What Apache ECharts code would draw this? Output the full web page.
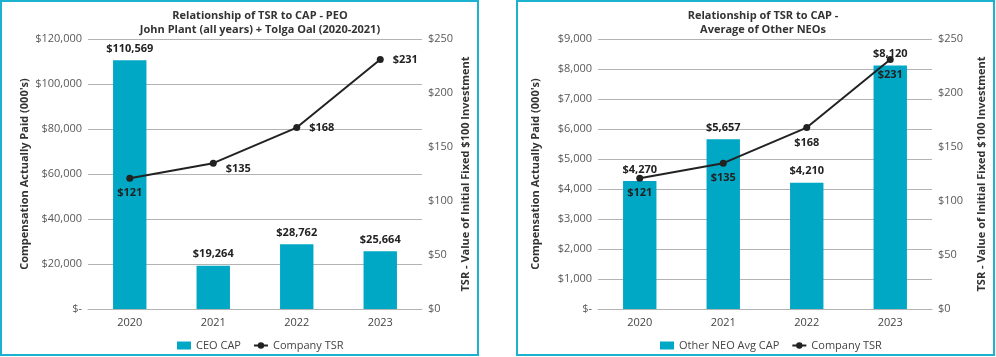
<!DOCTYPE html>
<html>
<head>
<meta charset="utf-8">
<script src="https://cdn.jsdelivr.net/npm/echarts@6/dist/echarts.min.js"></script>
<style>
html,body{margin:0;padding:0;background:#fff;}
#c{width:996px;height:357px;}
</style>
</head>
<body>
<div id="c"></div>
<script>
const years = ['2020', '2021', '2022', '2023'];
const ceoCap = [110569, 19264, 28762, 25664];
const neoCap = [4270, 5657, 4210, 8120];
const companyTsr = [121, 135, 168, 231];

const leftTitle = 'Relationship of TSR to CAP - PEO\nJohn Plant (all years) + Tolga Oal (2020-2021)';
const rightTitle = 'Relationship of TSR to CAP -\nAverage of Other NEOs';
const capAxisName = "Compensation Actually Paid (000's)";
const tsrAxisName = 'TSR - Value of Initial Fixed $100 Investment';

const FONT = '"Open Sans", sans-serif';
const BAR = '#00A8C6';
const BORDER = '#1CB2CF';
const LINE = '#222222';
const GRIDC = '#B3B3B3';
const AXT = '#595959';

function money(v){
  if (v === 0) return '$-';
  return '$' + v.toLocaleString('en-US');
}
function money0(v){ return '$' + v.toLocaleString('en-US'); }

const chart = echarts.init(document.getElementById('c'), null, {renderer:'canvas'});

function yCap(gridIndex, max, interval, gap){
  return {
    type:'value', gridIndex, min:0, max, interval, position:'left',
    name: capAxisName, nameLocation:'middle', nameGap: gap, nameRotate: 90,
    nameTextStyle:{fontFamily:FONT, fontSize:11, fontWeight:'bold', color:'#333'},
    axisLine:{show:false}, axisTick:{show:false},
    axisLabel:{fontFamily:FONT, fontSize:11, color:AXT, formatter: money, margin:6},
    splitLine:{show:true, lineStyle:{color:GRIDC, width:1}}
  };
}
function yTsr(gridIndex, gap){
  return {
    type:'value', gridIndex, min:0, max:250, interval:50, position:'right',
    name: tsrAxisName, nameLocation:'middle', nameGap: gap, nameRotate: 90,
    nameTextStyle:{fontFamily:FONT, fontSize:11, fontWeight:'bold', color:'#333'},
    axisLine:{show:false}, axisTick:{show:false},
    axisLabel:{fontFamily:FONT, fontSize:11, color:AXT, formatter: money0, margin:6},
    splitLine:{show:false}
  };
}
function xAx(gridIndex){
  return {
    type:'category', gridIndex, data: years,
    axisLine:{show:true, lineStyle:{color:GRIDC, width:1}}, axisTick:{show:false},
    axisLabel:{fontFamily:FONT, fontSize:11, color:'#444', margin:8}
  };
}
const labelBold = {fontFamily:FONT, fontSize:11, fontWeight:'bold', color:'#222'};

const leftTsrLabels = [
  {position:'bottom', distance:6},
  {position:'right', distance:9, offset:[0,6]},
  {position:'right', distance:9},
  {position:'right', distance:9}
];

const option = {
  animation:false,
  graphic:[
    {type:'rect', shape:{x:1, y:1, width:477, height:354}, style:{fill:'none', stroke:BORDER, lineWidth:2}},
    {type:'rect', shape:{x:517, y:1, width:477, height:354}, style:{fill:'none', stroke:BORDER, lineWidth:2}}
  ],
  title:[
    {text:leftTitle, left:255, textAlign:'center', top:4,
     textStyle:{fontFamily:FONT, fontSize:11, fontWeight:'bold', color:'#333', lineHeight:14}},
    {text:rightTitle, left:758, textAlign:'center', top:4,
     textStyle:{fontFamily:FONT, fontSize:11, fontWeight:'bold', color:'#333', lineHeight:14}}
  ],
  legend:[
    {left:172, top:335, itemWidth:14, itemHeight:8, itemGap:12,
     textStyle:{fontFamily:FONT, fontSize:11, color:'#444'},
     data:[{name:'CEO CAP', icon:'rect'}, {name:'Company TSR'}]},
    {left:655, top:335, itemWidth:14, itemHeight:8, itemGap:12,
     textStyle:{fontFamily:FONT, fontSize:11, color:'#444'},
     data:[{name:'Other NEO Avg CAP', icon:'rect'}, {name:'Company TSR'}]}
  ],
  grid:[
    {left:88, right:574, top:39, bottom:48},
    {left:598, right:64, top:39, bottom:48}
  ],
  xAxis:[xAx(0), xAx(1)],
  yAxis:[yCap(0, 120000, 20000, 58), yTsr(0, 38), yCap(1, 9000, 1000, 57), yTsr(1, 44)],
  series:[
    {name:'CEO CAP', type:'bar', xAxisIndex:0, yAxisIndex:0, data: ceoCap, barWidth:'40%',
     itemStyle:{color:BAR},
     label:{show:true, position:'top', distance:6, ...labelBold, formatter:p=>money0(p.value)}},
    {name:'Company TSR', type:'line', xAxisIndex:0, yAxisIndex:1,
     data: companyTsr.map((v,i)=>({value:v, label:leftTsrLabels[i]})),
     symbol:'circle', symbolSize:7, lineStyle:{color:LINE, width:2}, itemStyle:{color:LINE},
     label:{show:true, ...labelBold, formatter:p=>money0(p.value)}},
    {name:'Other NEO Avg CAP', type:'bar', xAxisIndex:1, yAxisIndex:2, data: neoCap, barWidth:'40%',
     itemStyle:{color:BAR},
     label:{show:true, position:'top', distance:6, ...labelBold, formatter:p=>money0(p.value)}},
    {name:'Company TSR', type:'line', xAxisIndex:1, yAxisIndex:3, data: companyTsr,
     symbol:'circle', symbolSize:7, lineStyle:{color:LINE, width:2}, itemStyle:{color:LINE},
     label:{show:true, position:'bottom', distance:6, ...labelBold, formatter:p=>money0(p.value)}}
  ]
};
chart.setOption(option);
</script>
</body>
</html>
